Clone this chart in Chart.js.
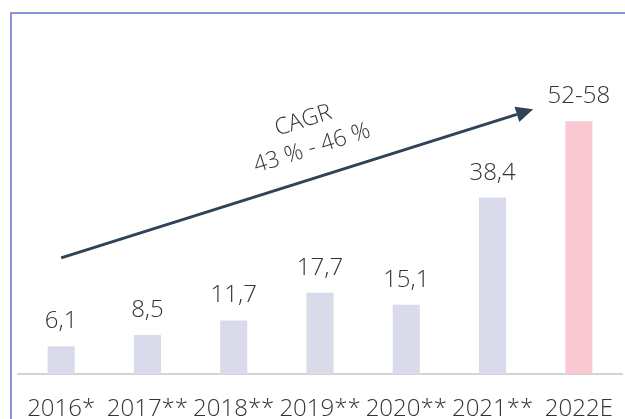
<!DOCTYPE html>
<html>
<head>
<meta charset="utf-8">
<script src="https://cdn.jsdelivr.net/npm/chart.js@4"></script>
<style>
  html, body { margin: 0; padding: 0; background: #fff; }
  .wrap { position: relative; width: 625px; height: 419px; overflow: hidden; }
  .frame {
    position: absolute; left: 10px; top: 12px; right: 0; bottom: 0;
    border-left: 2px solid #8a94d6; border-top: 2px solid #8a94d6;
  }
  canvas { position: absolute; left: 0; top: 0; }
</style>
</head>
<body>
<div class="wrap">
  <div class="frame"></div>
  <canvas id="chart" width="625" height="445"></canvas>
</div>
<script>
const categories = ['2016*', '2017**', '2018**', '2019**', '2020**', '2021**', '2022E'];
const values = [6.1, 8.5, 11.7, 17.7, 15.1, 38.4, 55];
const valueLabels = ['6,1', '8,5', '11,7', '17,7', '15,1', '38,4', '52-58'];
const cagrLines = ['CAGR', '43 % - 46 %'];
// arrow from / to, in data units (category index, value)
const arrowFrom = [0, 25.3];
const arrowTo = [5.47, 57.6];

const FONT = '"Open Sans", "DejaVu Sans", sans-serif';
const TEXT = '#333333';

const extrasPlugin = {
  id: 'extras',
  afterDatasetsDraw(chart) {
    const ctx = chart.ctx;
    const x = chart.scales.x, y = chart.scales.y;
    const meta = chart.getDatasetMeta(0);

    ctx.save();
    ctx.fillStyle = TEXT;
    ctx.font = '300 24px ' + FONT;
    ctx.textAlign = 'center';
    ctx.textBaseline = 'alphabetic';
    meta.data.forEach((bar, i) => {
      ctx.fillText(valueLabels[i], bar.x, bar.y - 18);
    });

    // CAGR arrow
    const x0 = x.getPixelForValue(arrowFrom[0]), y0 = y.getPixelForValue(arrowFrom[1]);
    const x1 = x.getPixelForValue(arrowTo[0]), y1 = y.getPixelForValue(arrowTo[1]);
    const ang = Math.atan2(y1 - y0, x1 - x0);
    const head = 17, half = 8;
    ctx.strokeStyle = '#2e4258';
    ctx.fillStyle = '#2e4258';
    ctx.lineWidth = 3;
    ctx.beginPath();
    ctx.moveTo(x0, y0);
    ctx.lineTo(x1 - Math.cos(ang) * head, y1 - Math.sin(ang) * head);
    ctx.stroke();
    ctx.beginPath();
    ctx.moveTo(x1, y1);
    ctx.lineTo(x1 - Math.cos(ang) * head + Math.sin(ang) * half, y1 - Math.sin(ang) * head - Math.cos(ang) * half);
    ctx.lineTo(x1 - Math.cos(ang) * head - Math.sin(ang) * half, y1 - Math.sin(ang) * head + Math.cos(ang) * half);
    ctx.closePath();
    ctx.fill();

    // rotated CAGR text
    const mx = x0 + (x1 - x0) * 0.55, my = y0 + (y1 - y0) * 0.55;
    ctx.translate(mx, my);
    ctx.rotate(ang);
    ctx.fillStyle = TEXT;
    ctx.font = '300 23px ' + FONT;
    ctx.textBaseline = 'middle';
    ctx.fillText(cagrLines[0], 0, -58);
    ctx.fillText(cagrLines[1], 0, -29);
    ctx.restore();
  }
};

new Chart(document.getElementById('chart'), {
  type: 'bar',
  data: {
    labels: categories,
    datasets: [{
      data: values,
      backgroundColor: ['#d9dbea', '#d9dbea', '#d9dbea', '#d9dbea', '#d9dbea', '#d9dbea', '#f8c9d2'],
      borderWidth: 0,
      barPercentage: 0.314,
      categoryPercentage: 1
    }]
  },
  options: {
    responsive: false,
    animation: false,
    devicePixelRatio: 1,
    layout: { padding: { left: 18, right: 3, top: 20, bottom: 0 } },
    plugins: {
      legend: { display: false },
      tooltip: { enabled: false }
    },
    scales: {
      x: {
        afterFit(scale) {
          // labels may overhang the plot edges, like the original
          scale.paddingLeft = 0;
          scale.paddingRight = 0;
        },
        grid: { display: false, drawTicks: false },
        border: { display: true, color: '#d4d4d4', width: 2 },
        ticks: {
          color: TEXT,
          padding: 21,
          maxRotation: 0,
          autoSkip: false,
          font: { family: FONT, size: 24, weight: 300 }
        }
      },
      y: {
        display: false,
        min: 0,
        max: 77
      }
    }
  },
  plugins: [extrasPlugin]
});
</script>
</body>
</html>
